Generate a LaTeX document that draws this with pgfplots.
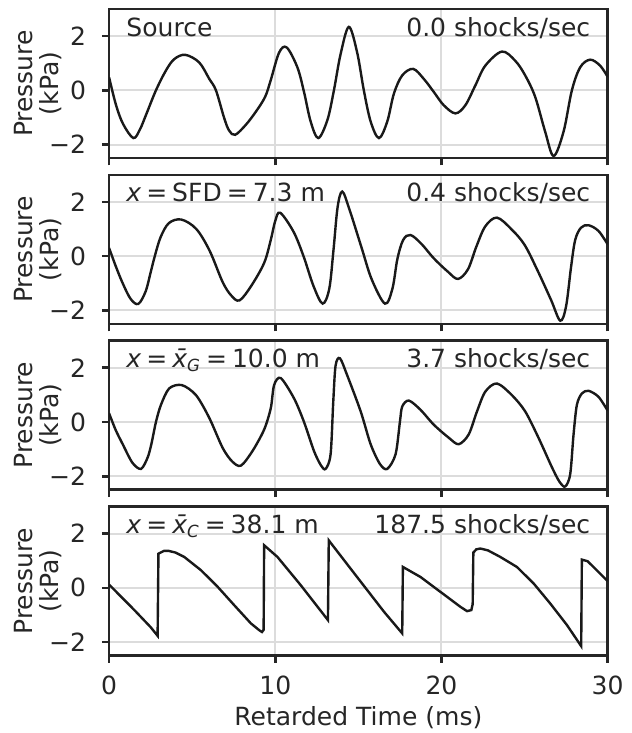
\documentclass[border=0pt]{standalone}
\usepackage{fontspec}
\setmainfont{DejaVu Sans}
\usepackage{pgfplots}
\pgfplotsset{compat=1.18}
\usepgfplotslibrary{groupplots}
\definecolor{ink}{gray}{0.1}
\definecolor{fg}{gray}{0.15}
\definecolor{gridc}{HTML}{DCDCDC}
\newcommand{\eq}{\hspace{0.2em}=\hspace{0.2em}}
\begin{document}
\fontsize{12pt}{14.4pt}\selectfont
\begin{tikzpicture}
\begin{groupplot}[
  group style={group size=1 by 4, vertical sep=8pt, xticklabels at=edge bottom, group name=group},
  width=239pt, height=71.5pt, scale only axis,
  xmin=0, xmax=30, ymin=-2.5, ymax=3,
  xtick={0,10,20,30}, xticklabels={0,10,20,30},
  ytick={-2,0,2}, yticklabels={−2,0,2},
  tick align=outside, tick pos=left,
  major tick length=3.5pt,
  every tick/.style={line width=1.25pt, color=fg},
  axis line style={line width=1.25pt, color=fg},
  grid=major, grid style={line width=1pt, color=gridc},
  ticklabel style={font=\fontsize{12pt}{14.4pt}\selectfont, color=fg},
  yticklabel style={xshift=-3.4pt},
  xticklabel style={yshift=-2.2pt},
  ylabel={Pressure\\(kPa)},
  ylabel style={at={([xshift=-22.5pt]rel axis cs:0,0.5)}, anchor=south, inner sep=0pt, align=center, font=\fontsize{12pt}{12.5pt}\selectfont, color=fg},
  xlabel style={at={([yshift=-33.6pt]rel axis cs:0.5,0)}, anchor=base, inner sep=0pt, color=fg},
  every axis plot/.style={line width=1.15pt, color=ink},
]
\nextgroupplot
\addplot[smooth, tension=0.55] coordinates {
(0,0.48)(0.42,-0.55)(0.85,-1.25)(1.46,-1.76)(1.85,-1.45)(2.22,-0.91)(2.82,0)(3.42,0.73)(3.92,1.15)(4.58,1.31)
(5.42,1.03)(6.03,0.42)(6.43,0)(6.93,-1.03)(7.23,-1.49)(7.59,-1.64)(8.23,-1.27)(8.83,-0.79)(9.39,-0.24)(9.73,0.38)(10.23,1.39)(10.69,1.58)
(11.33,0.85)(11.73,-0.06)(12.13,-1.15)(12.59,-1.76)(13.14,-1.09)(13.53,0)(13.93,1.33)(14.43,2.34)
(14.93,1.39)(15.33,0)(15.74,-1.15)(16.24,-1.76)(16.74,-1.15)(17.14,-0.12)(17.64,0.55)(18.3,0.79)
(18.94,0.42)(19.54,-0.06)(20.14,-0.55)(20.84,-0.85)(21.44,-0.55)(22.04,0.18)(22.64,0.91)(23.64,1.43)
(24.44,1.09)(25.04,0.55)(25.64,-0.24)(26.24,-1.52)(26.75,-2.42)(27.35,-1.52)(27.85,0)(28.35,0.85)(28.95,1.13)
(29.55,0.91)(30,0.5)
};
\node[anchor=base west, inner sep=0, color=fg] at (rel axis cs:0.034,0.818) {Source};
\node[anchor=base east, inner sep=0, color=fg] at (rel axis cs:0.966,0.818) {0.0 shocks/sec};

\nextgroupplot
\addplot[smooth, tension=0.55] coordinates {
(0,0.30)(0.42,-0.4)(0.82,-1.0)(1.3,-1.58)(1.76,-1.76)(2.2,-1.3)(2.5,-0.6)(2.75,0)(3.1,0.7)(3.6,1.22)(4.35,1.35)
(5.25,1.0)(6.05,0.2)(6.83,-0.95)(7.35,-1.45)(7.85,-1.63)(8.55,-1.1)(9.33,-0.25)(9.73,0.6)(10.0,1.3)(10.3,1.6)
(11.1,0.9)(11.7,0)(12.3,-1.1)(12.85,-1.75)(13.25,-1.2)(13.5,0.2)(13.75,1.8)(14.03,2.38)
(14.45,1.75)(15.2,0.3)(15.8,-0.85)(16.6,-1.75)(17.05,-1.2)(17.35,-0.1)(17.7,0.6)(18.14,0.78)
(18.8,0.45)(19.54,-0.08)(20.4,-0.58)(21.0,-0.84)(21.6,-0.48)(22.1,0.35)(22.64,1.1)(23.34,1.42)
(24.2,1.0)(25.0,0.42)(25.8,-0.55)(26.6,-1.62)(27.15,-2.38)(27.5,-1.85)(27.8,-0.4)(28.05,0.6)(28.4,1.05)(28.85,1.14)
(29.45,0.93)(30,0.44)
};
\node[anchor=base west, inner sep=0, color=fg] at (rel axis cs:0.034,0.818) {{\itshape x}\eq SFD\eq 7.3 m};
\node[anchor=base east, inner sep=0, color=fg] at (rel axis cs:0.966,0.818) {0.4 shocks/sec};

\nextgroupplot
\addplot[smooth, tension=0.5] coordinates {
(0,0.32)(0.4,-0.3)(0.82,-0.82)(1.4,-1.5)(1.92,-1.73)(2.32,-1.31)(2.55,-0.8)(2.82,0)(3.12,0.63)(3.62,1.24)(4.38,1.36)
(5.23,0.99)(6.03,0.15)(6.83,-0.95)(7.4,-1.45)(7.93,-1.61)(8.63,-1.07)(9.33,-0.28)(9.73,0.51)(9.93,1.36)(10.33,1.62)
(11.13,0.87)(11.73,0)(12.33,-1.07)(12.75,-1.6)(13.03,-1.73)(13.33,-1.19)(13.49,0.75)(13.63,2.08)(13.89,2.35)
(14.33,1.72)(15.14,0.39)(15.74,-0.82)(16.3,-1.55)(16.74,-1.73)(17.24,-1.19)(17.5,0)(17.64,0.57)(18.04,0.79)
(18.74,0.45)(19.54,-0.1)(20.44,-0.58)(21.04,-0.82)(21.64,-0.46)(22.14,0.39)(22.64,1.12)(23.34,1.42)
(24.24,0.99)(25.04,0.39)(25.84,-0.58)(26.65,-1.67)(27.1,-2.2)(27.45,-2.38)(27.75,-1.92)(27.95,-0.46)(28.15,0.63)(28.45,1.05)(28.85,1.15)
(29.45,0.93)(30,0.42)
};
\node[anchor=base west, inner sep=0, color=fg] at (rel axis cs:0.034,0.818) {{\itshape x}\eq{\itshape \={x}}\textsubscript{\itshape G}\eq 10.0 m};
\node[anchor=base east, inner sep=0, color=fg] at (rel axis cs:0.966,0.818) {3.7 shocks/sec};

\nextgroupplot[xlabel={Retarded Time (ms)}]
\addplot[sharp plot] coordinates {
(0,0.12)(1.52,-0.82)(2.5,-1.45)(2.92,-1.77)(2.97,1.26)(3.3,1.36)(3.6,1.36)(4.0,1.3)(4.52,1.14)(5.53,0.65)(6.53,0.04)
(7.53,-0.64)(8.53,-1.31)(9.03,-1.56)(9.2,-1.63)(9.3,-1.55)(9.33,1.57)(10.13,1.14)(11.53,0.1)(13.17,-1.19)(13.22,1.75)
(14.53,0.71)(16.54,-0.88)(17.64,-1.68)(17.68,0.77)(18.74,0.40)(19.94,-0.15)(21.14,-0.70)(21.54,-0.86)(21.8,-0.82)(21.88,-0.6)
(21.92,1.3)(22.1,1.42)(22.34,1.45)(22.8,1.38)(23.54,1.14)(24.54,0.77)(25.55,0.16)(26.55,-0.58)(27.55,-1.37)(28.41,-2.15)
(28.45,1.04)(28.8,0.98)(30,0.25)
};
\node[anchor=base west, inner sep=0, color=fg] at (rel axis cs:0.034,0.818) {{\itshape x}\eq{\itshape \={x}}\textsubscript{\itshape C}\eq 38.1 m};
\node[anchor=base east, inner sep=0, color=fg] at (rel axis cs:0.966,0.818) {187.5 shocks/sec};
\end{groupplot}
\pgfresetboundingbox
\path[use as bounding box] ([xshift=-52.3pt,yshift=4.3pt]group c1r1.north west) rectangle ([xshift=11.5pt,yshift=-37.1pt]group c1r4.south east);
\end{tikzpicture}
\end{document}
